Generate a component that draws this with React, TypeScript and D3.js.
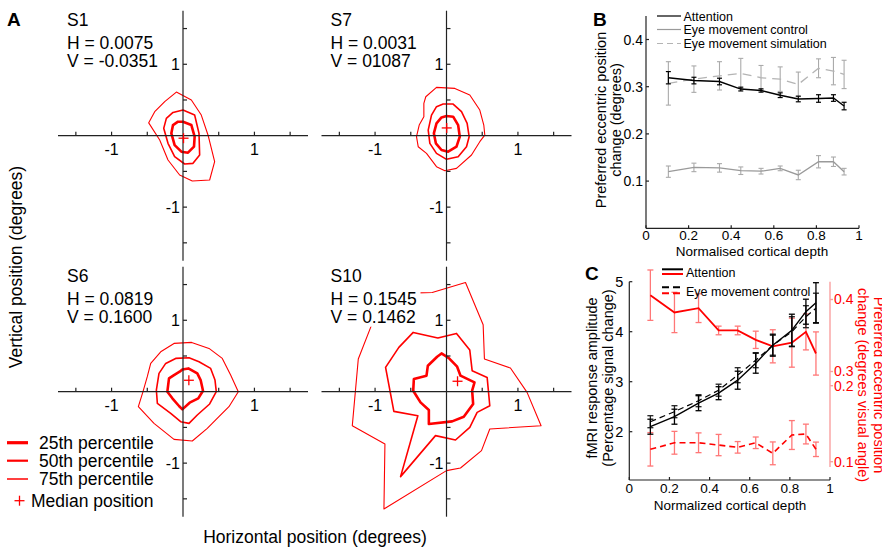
import React from 'react';
import * as d3 from 'd3';

const FONT = '"Liberation Sans", Arial, Helvetica, sans-serif';
const RED = '#ff0000';

// ---- Panel A: eye position distributions (degrees)
const subjects = ['S1', 'S7', 'S6', 'S10'];
const hLabels = ['0.0075', '0.0031', '0.0819', '0.1545'];
const vLabels = ['-0.0351', '01087', '0.1600', '0.1462'];
const medianH = [0.0075, 0.0031, 0.0819, 0.1545];
const medianV = [-0.0351, 0.1087, 0.16, 0.1462];

const s1P25 = [[0, 0.196], [0.117, 0.149], [0.163, -0.014], [0.154, -0.154], [0.07, -0.238], [-0.023, -0.224], [-0.117, -0.131], [-0.163, 0.033], [-0.14, 0.149], [-0.07, 0.196]];
const s1P50 = [[0, 0.359], [0.163, 0.289], [0.224, 0.033], [0.233, -0.27], [0.14, -0.387], [0.023, -0.396], [-0.117, -0.294], [-0.21, -0.107], [-0.27, 0.103], [-0.233, 0.242], [-0.14, 0.326]];
const s1P75 = [[-0.093, 0.611], [0.117, 0.499], [0.256, 0.289], [0.35, 0.01], [0.443, -0.364], [0.373, -0.62], [0.13, -0.634], [-0.047, -0.55], [-0.21, -0.34], [-0.326, -0.06], [-0.48, 0.18], [-0.396, 0.336], [-0.256, 0.476]];

const s7P25 = [[0, 0.275], [0.093, 0.266], [0.163, 0.149], [0.186, -0.014], [0.14, -0.154], [0.023, -0.224], [-0.07, -0.2], [-0.149, -0.107], [-0.177, 0.033], [-0.14, 0.172], [-0.07, 0.256]];
const s7P50 = [[-0.047, 0.443], [0.093, 0.443], [0.21, 0.336], [0.289, 0.172], [0.317, -0.014], [0.28, -0.154], [0.163, -0.294], [0, -0.331], [-0.14, -0.247], [-0.233, -0.107], [-0.256, 0.079], [-0.21, 0.289], [-0.14, 0.406]];
const s7P75 = [[-0.14, 0.676], [0.117, 0.662], [0.326, 0.569], [0.466, 0.359], [0.522, 0.149], [0.536, 0.009], [0.466, -0.084], [0.35, -0.27], [0.14, -0.457], [-0.023, -0.49], [-0.14, -0.434], [-0.28, -0.247], [-0.396, -0.154], [-0.42, -0.014], [-0.382, 0.149], [-0.317, 0.266], [-0.317, 0.452], [-0.29, 0.545]];

const s6P25 = [[-0.009, 0.312], [0.075, 0.326], [0.2, 0.256], [0.247, 0.163], [0.28, 0.014], [0.214, -0.093], [0.093, -0.154], [-0.009, -0.247], [-0.056, -0.2], [-0.149, -0.093], [-0.219, 0], [-0.196, 0.186], [-0.126, 0.233], [-0.047, 0.28]];
const s6P50 = [[-0.103, 0.466], [0.084, 0.476], [0.224, 0.42], [0.387, 0.326], [0.448, 0.163], [0.466, 0], [0.373, -0.172], [0.2, -0.326], [0.084, -0.443], [-0.033, -0.42], [-0.172, -0.303], [-0.359, -0.163], [-0.373, 0.023], [-0.336, 0.256], [-0.242, 0.396]];
const s6P75 = [[-0.126, 0.676], [0.121, 0.69], [0.364, 0.606], [0.55, 0.466], [0.667, 0.233], [0.774, 0], [0.643, -0.21], [0.503, -0.35], [0.34, -0.513], [0.13, -0.69], [-0.126, -0.667], [-0.406, -0.443], [-0.625, -0.21], [-0.56, 0], [-0.5, 0.21], [-0.452, 0.396], [-0.312, 0.559]];

const s10P25 = [[-0.07, 0.536], [0.033, 0.471], [0.149, 0.35], [0.196, 0.224], [0.392, 0.131], [0.359, 0.014], [0.373, -0.172], [0.242, -0.35], [0.079, -0.415], [-0.247, -0.452], [-0.247, -0.256], [-0.364, -0.149], [-0.466, 0.014], [-0.457, 0.177], [-0.28, 0.224], [-0.261, 0.364], [-0.131, 0.49]];
const s10P50 = [[-0.466, 0.83], [-0.121, 0.751], [0.14, 0.816], [0.326, 0.583], [0.359, 0.294], [0.569, 0.2], [0.606, -0.196], [0.429, -0.289], [0.326, -0.499], [0.126, -0.676], [-0.154, -0.615], [-0.643, -1.189], [-0.401, -0.336], [-0.737, -0.275], [-0.853, 0.34], [-0.667, 0.62]];
const s10P75 = [[-0.503, 1.38], [-0.2, 1.389], [0.266, 1.529], [0.513, 0.937], [0.531, 0.457], [0.895, 0.331], [1.128, -0.009], [1.324, -0.476], [0.606, -0.522], [0.49, -0.825], [0.196, -1.068], [0, -1.105], [-0.876, -1.641], [-0.862, -0.732], [-1.319, -0.476], [-1.235, 0.457], [-1.04, 0.956]];

const contours = [
  [s1P25, s1P50, s1P75],
  [s7P25, s7P50, s7P75],
  [s6P25, s6P50, s6P75],
  [s10P25, s10P50, s10P75],
];
const aTicks = [-1.5, -1, -0.5, 0.5, 1, 1.5];
const aTickLabels = [-1, 1];
const legendA = ['25th percentile', '50th percentile', '75th percentile'];

// ---- Panels B and C: cortical depth profiles
const depth = [0.105, 0.225, 0.345, 0.445, 0.54, 0.63, 0.715, 0.81, 0.88, 0.93];
const depthTicks = [0, 0.2, 0.4, 0.6, 0.8, 1];

const bAttention = [0.319, 0.313, 0.311, 0.295, 0.292, 0.282, 0.274, 0.275, 0.276, 0.259];
const bAttentionErr = [0.013, 0.007, 0.007, 0.004, 0.0035, 0.005, 0.006, 0.008, 0.007, 0.008];
const bControl = [0.12, 0.129, 0.128, 0.122, 0.121, 0.127, 0.113, 0.141, 0.141, 0.12];
const bControlErr = [0.012, 0.009, 0.009, 0.008, 0.006, 0.005, 0.01, 0.013, 0.01, 0.007];
const bSimulation = [0.307, 0.316, 0.323, 0.328, 0.319, 0.316, 0.305, 0.339, 0.333, 0.326];
const bSimulationErr = [0.046, 0.028, 0.03, 0.032, 0.026, 0.026, 0.026, 0.02, 0.029, 0.03];
const bYTicks = [0.1, 0.2, 0.3, 0.4];

const fmriAttention = [2.1, 2.3, 2.57, 2.77, 3.03, 3.37, 3.73, 4.03, 4.4, 4.58];
const fmriAttentionErr = [0.15, 0.15, 0.15, 0.13, 0.18, 0.2, 0.22, 0.32, 0.25, 0.4];
const fmriEye = [2.2, 2.4, 2.62, 2.83, 3.13, 3.43, 3.73, 4.0, 4.3, 4.47];
const fmriEyeErr = [0.12, 0.12, 0.12, 0.12, 0.15, 0.15, 0.2, 0.3, 0.22, 0.3];
const shiftAttention = [0.406, 0.382, 0.388, 0.357, 0.357, 0.344, 0.335, 0.34, 0.355, 0.325];
const shiftAttentionErr = [0.035, 0.028, 0.02, 0.006, 0.006, 0.012, 0.023, 0.034, 0.025, 0.03];
const shiftEye = [0.1163, 0.1249, 0.1249, 0.1219, 0.1189, 0.1249, 0.111, 0.1351, 0.1364, 0.1163];
const shiftEyeErr = [0.022, 0.015, 0.013, 0.014, 0.0076, 0.0076, 0.015, 0.019, 0.013, 0.0095];
const cLeftTicks = [2, 3, 4, 5];
const cUpperTicks = [0.3, 0.4];
const cLowerTicks = [0.1, 0.2];

type Scale = (v: number) => number;

function ErrorBars({ xs, ys, es, x, y, color, cap, width }: any) {
  return (
    <g stroke={color} strokeWidth={width} fill="none">
      {xs.map((xv: number, i: number) => {
        const px = x(xv);
        const top = y(ys[i] + es[i]);
        const bot = y(ys[i] - es[i]);
        return (
          <g key={i}>
            <line x1={px} x2={px} y1={top} y2={bot} />
            <line x1={px - cap} x2={px + cap} y1={top} y2={top} />
            <line x1={px - cap} x2={px + cap} y1={bot} y2={bot} />
          </g>
        );
      })}
    </g>
  );
}

function Quadrant({ idx, cx, cy }: { idx: number; cx: number; cy: number }) {
  const x = d3.scaleLinear().domain([-1.75, 1.75]).range([cx - 125, cx + 125]);
  const y = d3.scaleLinear().domain([-1.75, 1.75]).range([cy + 125, cy - 125]);
  const path = d3.line<number[]>().x(d => x(d[0])).y(d => y(d[1])).curve(d3.curveLinearClosed);
  const widths = [2.6, 1.6, 1.1];
  const tx = cx - 116;
  return (
    <g>
      <g fill="none" stroke={RED}>
        {contours[idx].map((c, i) => (
          <path key={i} d={path(c) || ''} strokeWidth={widths[i]} strokeLinejoin="round" />
        ))}
      </g>
      <rect x={tx - 2} y={cy - 101} width={92} height={36} fill="#fff" />
      <g stroke="#222" strokeWidth={1.2}>
        <line x1={x(-1.75)} x2={x(1.75)} y1={cy} y2={cy} />
        <line x1={cx} x2={cx} y1={y(1.75)} y2={y(-1.75)} />
        {aTicks.map(t => (
          <line key={'h' + t} x1={x(t)} x2={x(t)} y1={cy} y2={cy - 4} />
        ))}
        {aTicks.map(t => (
          <line key={'v' + t} x1={cx} x2={cx + 4} y1={y(t)} y2={y(t)} />
        ))}
      </g>
      <g fontSize={16} fill="#000">
        {aTickLabels.map(t => (
          <text key={'hl' + t} x={x(t)} y={cy + 19} textAnchor="middle">{t === -1 ? '-1' : '1'}</text>
        ))}
        {aTickLabels.map(t => (
          <text key={'vl' + t} x={cx - 3} y={y(t) + 6} textAnchor="end">{t === -1 ? '-1' : '1'}</text>
        ))}
      </g>
      <g stroke={RED} strokeWidth={1.3}>
        <line x1={x(medianH[idx]) - 5} x2={x(medianH[idx]) + 5} y1={y(medianV[idx])} y2={y(medianV[idx])} />
        <line x1={x(medianH[idx])} x2={x(medianH[idx])} y1={y(medianV[idx]) - 5} y2={y(medianV[idx]) + 5} />
      </g>
      <g fontSize={17.5} fill="#000">
        <text x={tx} y={cy - 110}>{subjects[idx]}</text>
        <text x={tx} y={cy - 87}>H = {hLabels[idx]}</text>
        <text x={tx} y={cy - 69}>V = {vLabels[idx]}</text>
      </g>
    </g>
  );
}

function PanelA() {
  const cxs = [183, 446.5, 183, 446.5];
  const cys = [135.7, 135.7, 391.7, 391.7];
  const legY = [442.7, 460.7, 479];
  const legW = [3.2, 2.2, 1.5];
  return (
    <g>
      {subjects.map((s, i) => (
        <Quadrant key={s} idx={i} cx={cxs[i]} cy={cys[i]} />
      ))}
      <text x={7} y={26} fontSize={19} fontWeight="bold">A</text>
      <text transform="translate(21.5,267) rotate(-90)" textAnchor="middle" fontSize={17.5}>Vertical position (degrees)</text>
      <text x={315} y={543} textAnchor="middle" fontSize={17.5}>Horizontal position (degrees)</text>
      {legendA.map((l, i) => (
        <g key={l}>
          <line x1={7} x2={28} y1={legY[i]} y2={legY[i]} stroke={RED} strokeWidth={legW[i]} />
          <text x={39} y={legY[i] + 5.8} fontSize={17.5}>{l}</text>
        </g>
      ))}
      <g stroke={RED} strokeWidth={1.3}>
        <line x1={14.5} x2={24.5} y1={500.7} y2={500.7} />
        <line x1={19.5} x2={19.5} y1={495.7} y2={505.7} />
      </g>
      <text x={31} y={506.5} fontSize={17.5}>Median position</text>
    </g>
  );
}

function PanelB() {
  const x: Scale = d3.scaleLinear().domain([0, 1]).range([646, 859]);
  const y: Scale = d3.scaleLinear().domain([0, 0.45]).range([228.3, 15.9]);
  const ln = (vals: number[]) =>
    d3.line<number>().x((_, i) => x(depth[i])).y(d => y(d))(vals) || '';
  return (
    <g>
      <ErrorBars xs={depth} ys={bSimulation} es={bSimulationErr} x={x} y={y} color="#aaa" cap={2.5} width={1.1} />
      <ErrorBars xs={depth} ys={bControl} es={bControlErr} x={x} y={y} color="#aaa" cap={2.5} width={1.1} />
      <path d={ln(bSimulation)} fill="none" stroke="#b4b4b4" strokeWidth={1.3} strokeDasharray="9,6" />
      <path d={ln(bControl)} fill="none" stroke="#9a9a9a" strokeWidth={1.3} />
      <ErrorBars xs={depth} ys={bAttention} es={bAttentionErr} x={x} y={y} color="#000" cap={2.5} width={1.2} />
      <path d={ln(bAttention)} fill="none" stroke="#000" strokeWidth={1.4} />
      <g stroke="#222" strokeWidth={1.2}>
        <line x1={x(0)} x2={x(1)} y1={y(0)} y2={y(0)} />
        <line x1={x(0)} x2={x(0)} y1={y(0)} y2={y(0.45)} />
        {bYTicks.map(t => (
          <line key={t} x1={x(0)} x2={x(0) + 3} y1={y(t)} y2={y(t)} />
        ))}
        {depthTicks.map(t => (
          <line key={t} x1={x(t)} x2={x(t)} y1={y(0)} y2={y(0) - 3} />
        ))}
      </g>
      <g fontSize={14}>
        {bYTicks.map(t => (
          <text key={t} x={x(0) - 3} y={y(t) + 5} textAnchor="end">{String(t)}</text>
        ))}
      </g>
      <g fontSize={13.5}>
        {depthTicks.map(t => (
          <text key={t} x={x(t)} y={239.5} textAnchor="middle">{String(t)}</text>
        ))}
      </g>
      <text x={752} y={255.5} textAnchor="middle" fontSize={13.5}>Normalised cortical depth</text>
      <text transform="translate(606,120) rotate(-90)" textAnchor="middle" fontSize={14.5}>
        <tspan x={0} dy={0}>Preferred eccentric position</tspan>
        <tspan x={0} dy={14.5}>change (degrees)</tspan>
      </text>
      <text x={593} y={26} fontSize={19} fontWeight="bold">B</text>
      <g fontSize={12.5}>
        <line x1={657} x2={681} y1={16} y2={16} stroke="#000" strokeWidth={1.2} />
        <text x={683.5} y={20.5}>Attention</text>
        <line x1={657} x2={681} y1={29.5} y2={29.5} stroke="#9a9a9a" strokeWidth={1.2} />
        <text x={683.5} y={34}>Eye movement control</text>
        <line x1={657} x2={681} y1={43.5} y2={43.5} stroke="#b4b4b4" strokeWidth={1.2} strokeDasharray="6,4" />
        <text x={683.5} y={48}>Eye movement simulation</text>
      </g>
    </g>
  );
}

function PanelC() {
  const x: Scale = d3.scaleLinear().domain([0, 1]).range([629.3, 830]);
  const yl: Scale = d3.scaleLinear().domain([2, 5]).range([431.7, 281.7]);
  const yu: Scale = d3.scaleLinear().domain([0.3, 0.4]).range([371.5, 299.5]);
  const yd: Scale = d3.scaleLinear().domain([0.1, 0.2]).range([461.7, 385.7]);
  const ln = (vals: number[], ys: Scale) =>
    d3.line<number>().x((_, i) => x(depth[i])).y(d => ys(d))(vals) || '';
  const pink = '#f77';
  return (
    <g>
      <ErrorBars xs={depth} ys={shiftAttention} es={shiftAttentionErr} x={x} y={yu} color={pink} cap={3} width={1.3} />
      <ErrorBars xs={depth} ys={shiftEye} es={shiftEyeErr} x={x} y={yd} color={pink} cap={3} width={1.3} />
      <path d={ln(shiftAttention, yu)} fill="none" stroke={RED} strokeWidth={1.8} />
      <path d={ln(shiftEye, yd)} fill="none" stroke={RED} strokeWidth={1.6} strokeDasharray="6,4" />
      <ErrorBars xs={depth} ys={fmriEye} es={fmriEyeErr} x={x} y={yl} color="#222" cap={3} width={1.3} />
      <ErrorBars xs={depth} ys={fmriAttention} es={fmriAttentionErr} x={x} y={yl} color="#000" cap={3} width={1.3} />
      <path d={ln(fmriEye, yl)} fill="none" stroke="#000" strokeWidth={1.2} strokeDasharray="6,4" />
      <path d={ln(fmriAttention, yl)} fill="none" stroke="#000" strokeWidth={1.4} />
      <g stroke="#222" strokeWidth={1.2}>
        <line x1={x(0)} x2={x(1)} y1={480} y2={480} />
        <line x1={x(0)} x2={x(0)} y1={480} y2={yl(5)} />
        {cLeftTicks.map(t => (
          <line key={t} x1={x(0)} x2={x(0) + 3} y1={yl(t)} y2={yl(t)} />
        ))}
        {depthTicks.map(t => (
          <line key={t} x1={x(t)} x2={x(t)} y1={480} y2={477} />
        ))}
      </g>
      <g stroke="#f9a0a0" strokeWidth={1.4}>
        <line x1={x(1)} x2={x(1)} y1={281.7} y2={467} />
        {cUpperTicks.map(t => (
          <line key={'u' + t} x1={x(1)} x2={x(1) + 3} y1={yu(t)} y2={yu(t)} />
        ))}
        {cLowerTicks.map(t => (
          <line key={'d' + t} x1={x(1)} x2={x(1) + 3} y1={yd(t)} y2={yd(t)} />
        ))}
      </g>
      <g fontSize={14} fill={RED}>
        {cUpperTicks.map(t => (
          <text key={'u' + t} x={x(1) + 4} y={yu(t) + 4} >{String(t)}</text>
        ))}
        {cLowerTicks.map(t => (
          <text key={'d' + t} x={x(1) + 4} y={yd(t) + 5.5}>{String(t)}</text>
        ))}
      </g>
      <g fontSize={14.5}>
        {cLeftTicks.map(t => (
          <text key={t} x={x(0) - 6} y={yl(t) + 5} textAnchor="end">{String(t)}</text>
        ))}
      </g>
      <g fontSize={13.5}>
        {depthTicks.map(t => (
          <text key={t} x={x(t)} y={492.5} textAnchor="middle">{String(t)}</text>
        ))}
      </g>
      <text x={730} y={509.5} textAnchor="middle" fontSize={13.5}>Normalized cortical depth</text>
      <text transform="translate(597,378) rotate(-90)" textAnchor="middle" fontSize={14.5}>
        <tspan x={0} dy={0}>fMRI response amplitude</tspan>
        <tspan x={0} dy={15.5}>(Percentage signal change)</tspan>
      </text>
      <text transform="translate(874,385) rotate(90)" textAnchor="middle" fontSize={14.5} fill={RED}>
        <tspan x={0} dy={0}>Preferred eccentric position</tspan>
        <tspan x={0} dy={16}>change (degrees visual angle)</tspan>
      </text>
      <text x={585} y={280} fontSize={19} fontWeight="bold">C</text>
      <g fontSize={12.5}>
        <line x1={662} x2={683} y1={269.3} y2={269.3} stroke="#000" strokeWidth={2} />
        <line x1={662} x2={683} y1={274} y2={274} stroke={RED} strokeWidth={2} />
        <text x={686} y={277}>Attention</text>
        <line x1={662} x2={683} y1={287.3} y2={287.3} stroke="#000" strokeWidth={2} strokeDasharray="7,4" />
        <line x1={662} x2={683} y1={293.3} y2={293.3} stroke={RED} strokeWidth={2} strokeDasharray="7,4" />
        <text x={686} y={296}>Eye movement control</text>
      </g>
    </g>
  );
}

export default function App() {
  return (
    <svg
      width={882}
      height={549}
      viewBox="0 0 882 549"
      style={{ position: 'absolute', left: 0, top: 0, background: '#fff' }}
      fontFamily={FONT}
    >
      <rect width={882} height={549} fill="#fff" />
      <PanelA />
      <PanelB />
      <PanelC />
    </svg>
  );
}
